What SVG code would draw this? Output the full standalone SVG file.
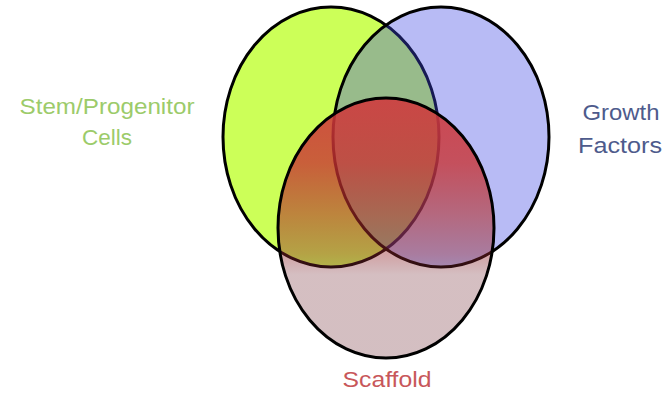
<svg xmlns="http://www.w3.org/2000/svg" width="665" height="394" viewBox="0 0 665 394">
<defs>
<style>
.ring{stroke:#000;stroke-width:3}
.lbl{font-family:"Liberation Sans",Arial,sans-serif;font-size:22.5px;text-anchor:middle}
</style>
<linearGradient id="redGrad" x1="0" y1="0" x2="0" y2="1">
<stop offset="0" stop-color="rgb(208,58,62)" stop-opacity="0.9"/>
<stop offset="0.25" stop-color="rgb(200,50,50)" stop-opacity="0.78"/>
<stop offset="0.45" stop-color="rgb(178,45,42)" stop-opacity="0.58"/>
<stop offset="0.6" stop-color="rgb(150,40,45)" stop-opacity="0.43"/>
<stop offset="0.68" stop-color="rgb(115,40,50)" stop-opacity="0.3"/>
<stop offset="1" stop-color="rgb(110,40,50)" stop-opacity="0.3"/>
</linearGradient>
</defs>
<rect width="665" height="394" fill="#fff"/>
<g id="stem-cells">
<ellipse class="ring" cx="331" cy="137" rx="108" ry="130" fill="#CCFF58"/>
<text class="lbl" x="107" y="114" fill="#9CCB6A" textLength="175" lengthAdjust="spacingAndGlyphs">Stem/Progenitor</text>
<text class="lbl" x="107" y="145" fill="#9CCB6A" textLength="50" lengthAdjust="spacingAndGlyphs">Cells</text>
</g>
<g id="growth-factors">
<ellipse class="ring" cx="441" cy="137" rx="108" ry="130" fill="rgb(63,71,228)" fill-opacity="0.37"/>
<text class="lbl" x="621" y="120" fill="#4E5B8C" textLength="77" lengthAdjust="spacingAndGlyphs">Growth</text>
<text class="lbl" x="620" y="153" fill="#4E5B8C" textLength="84" lengthAdjust="spacingAndGlyphs">Factors</text>
</g>
<g id="scaffold">
<ellipse class="ring" cx="386" cy="228" rx="108" ry="130" fill="url(#redGrad)"/>
<text class="lbl" x="387" y="387" fill="#C8575A" textLength="89" lengthAdjust="spacingAndGlyphs">Scaffold</text>
</g>
<g id="connectors"/>
</svg>
